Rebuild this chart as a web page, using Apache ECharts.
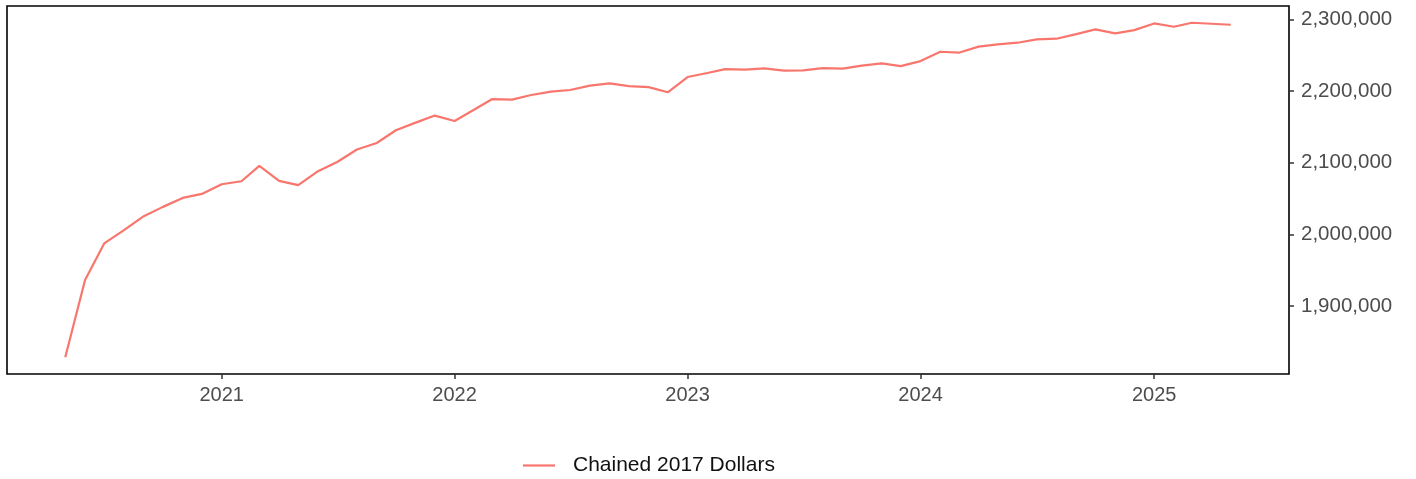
<!DOCTYPE html>
<html>
<head>
<meta charset="utf-8">
<script src="https://cdn.jsdelivr.net/npm/echarts@6/dist/echarts.min.js"></script>
<style>
html,body{margin:0;padding:0;background:#fff;}
#chart{width:1416px;height:479px;}
</style>
</head>
<body>
<div id="chart"></div>
<script>
// Monthly dates (first of month)
const months = [
  '2020-05','2020-06','2020-07','2020-08','2020-09','2020-10','2020-11','2020-12',
  '2021-01','2021-02','2021-03','2021-04','2021-05','2021-06','2021-07','2021-08','2021-09','2021-10','2021-11','2021-12',
  '2022-01','2022-02','2022-03','2022-04','2022-05','2022-06','2022-07','2022-08','2022-09','2022-10','2022-11','2022-12',
  '2023-01','2023-02','2023-03','2023-04','2023-05','2023-06','2023-07','2023-08','2023-09','2023-10','2023-11','2023-12',
  '2024-01','2024-02','2024-03','2024-04','2024-05','2024-06','2024-07','2024-08','2024-09','2024-10','2024-11','2024-12',
  '2025-01','2025-02','2025-03','2025-04','2025-05'
];
// Chained 2017 Dollars
const chainedValues = [
  1828500,1936300,1987400,2005900,2025400,2038400,2050900,2056500,
  2070000,2074200,2095500,2074600,2068700,2088200,2101100,2118400,2127600,2145300,2156000,2165800,
  2158300,2174200,2188900,2188100,2194500,2199200,2201500,2207600,2210800,2207000,2205500,2198300,
  2219600,2225200,2230700,2229900,2231700,2228500,2228900,2232100,2231300,2235500,2238700,2234900,
  2241900,2254900,2253600,2262000,2265200,2267500,2272100,2273100,2279500,2286100,2280500,2285100,
  2294400,2289800,2295400,2294000,2292600
];
const seriesName = 'Chained 2017 Dollars';
const yTicks = [1900000, 2000000, 2100000, 2200000, 2300000];
const xTickYears = [2021, 2022, 2023, 2024, 2025];

const ts = months.map(m => { const [y, mo] = m.split('-').map(Number); return Date.UTC(y, mo - 1, 1); });
const data = ts.map((t, i) => [t, chainedValues[i]]);
const tMin = ts[0], tMax = ts[ts.length - 1];
const tPad = (tMax - tMin) * 0.05;
const vMin = Math.min(...chainedValues), vMax = Math.max(...chainedValues);
const vPad = (vMax - vMin) * 0.05;
const xTickVals = xTickYears.map(y => Date.UTC(y, 0, 1));

const chart = echarts.init(document.getElementById('chart'), null, {renderer: 'canvas'});
chart.setOption({
  animation: false,
  backgroundColor: '#fff',
  textStyle: {fontFamily: '"Liberation Sans", Arial, sans-serif'},
  grid: {left: 7, right: 127, top: 6, bottom: 105, show: true, borderColor: '#000', borderWidth: 1.6, containLabel: false},
  legend: {
    data: [{name: seriesName, icon: 'rect'}],
    left: 518, top: 450,
    itemWidth: 32, itemHeight: 2.2,
    textStyle: {fontSize: 21, color: '#111', padding: [0, 0, 0, 13], fontFamily: '"Liberation Sans", Arial, sans-serif'}
  },
  xAxis: {
    type: 'value',
    min: tMin - tPad, max: tMax + tPad,
    axisLine: {show: false},
    splitLine: {show: false},
    axisTick: {show: true, length: 5, lineStyle: {color: '#333', width: 1.5}, customValues: xTickVals},
    axisLabel: {
      customValues: xTickVals,
      fontSize: 20, color: '#4d4d4d', margin: 11,
      fontFamily: '"Liberation Sans", Arial, sans-serif',
      formatter: v => String(new Date(v).getUTCFullYear())
    }
  },
  yAxis: {
    type: 'value',
    position: 'right',
    min: vMin - vPad, max: vMax + vPad,
    axisLine: {show: false},
    splitLine: {show: false},
    axisTick: {show: true, length: 5, lineStyle: {color: '#333', width: 1.5}, customValues: yTicks},
    axisLabel: {
      customValues: yTicks,
      fontSize: 20.5, color: '#4d4d4d', margin: 12,
      fontFamily: '"Liberation Sans", Arial, sans-serif',
      formatter: v => Number(v).toLocaleString('en-US')
    }
  },
  series: [{
    name: seriesName,
    type: 'line',
    data: data,
    symbol: 'none',
    showSymbol: false,
    lineStyle: {color: '#F8766D', width: 2.2},
    itemStyle: {color: '#F8766D'}
  }]
});
</script>
</body>
</html>
